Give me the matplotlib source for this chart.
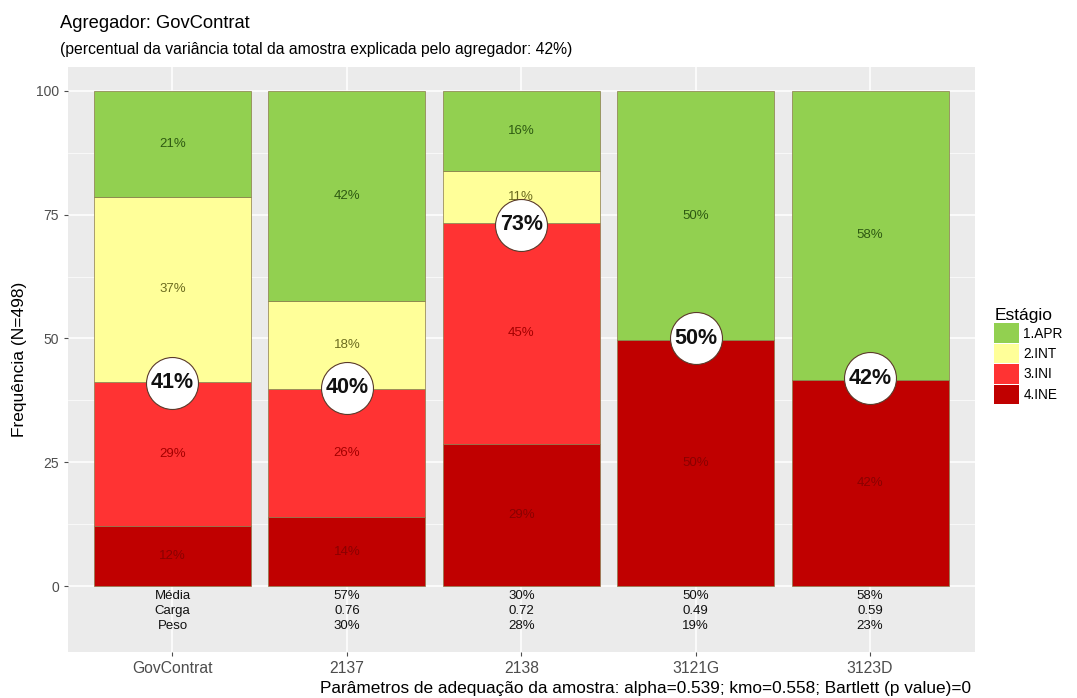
import matplotlib.pyplot as plt
import numpy as np
from matplotlib.patches import Patch

plt.rcParams['font.family'] = ['Liberation Sans', 'DejaVu Sans']

categories = ['GovContrat', '2137', '2138', '3121G', '3123D']
stages = ['1.APR', '2.INT', '3.INI', '4.INE']
# percentages per stage (bottom to top: INE, INI, INT, APR)
ine = [12.2, 13.9, 28.7, 49.6, 41.6]
ini = [29.1, 25.9, 44.6, 0.0, 0.0]
intr = [37.2, 17.7, 10.6, 0.0, 0.0]
apr = [21.5, 42.5, 16.1, 50.4, 58.4]
seg_labels = {
    '4.INE': ['12%', '14%', '29%', '50%', '42%'],
    '3.INI': ['29%', '26%', '45%', '', ''],
    '2.INT': ['37%', '18%', '11%', '', ''],
    '1.APR': ['21%', '42%', '16%', '50%', '58%'],
}
circle_vals = [41, 40, 73, 50, 42]
media = ['Média', '57%', '30%', '50%', '58%']
carga = ['Carga', '0.76', '0.72', '0.49', '0.59']
peso = ['Peso', '30%', '28%', '19%', '23%']

fills = {'1.APR': '#92d050', '2.INT': '#ffff99', '3.INI': '#ff3333', '4.INE': '#c00000'}
txtcol = {'1.APR': '#2e5a12', '2.INT': '#6b6b1f', '3.INI': '#a30000', '4.INE': '#8a0000'}

fig = plt.figure(figsize=(10.77, 6.98), dpi=100)
ax = fig.add_axes([0.063, 0.066, 0.842, 0.838])
ax.set_facecolor('#ebebeb')

x = np.arange(len(categories))
bottom = np.zeros(len(categories))
order = [('4.INE', ine), ('3.INI', ini), ('2.INT', intr), ('1.APR', apr)]
for name, vals in order:
    vals = np.array(vals)
    ax.bar(x, vals, bottom=bottom, width=0.9, color=fills[name],
           edgecolor='#8a7a4a', linewidth=0.5, zorder=2)
    for i, v in enumerate(vals):
        lab = seg_labels[name][i]
        if v > 0 and lab:
            ax.text(x[i], bottom[i] + v / 2, lab, ha='center', va='center',
                    fontsize=9.5, color=txtcol[name], zorder=3)
    bottom += vals

# circles at cumulative INE+INI
ax.scatter(x, circle_vals, s=1400, facecolor='white', edgecolor='#5a3a2a',
           linewidth=0.8, zorder=4)
for i, v in enumerate(circle_vals):
    ax.text(x[i], v, f'{v}%', ha='center', va='center', fontsize=15.5,
            fontweight='bold', color='#111111', zorder=5)

# table under bars
for i in range(len(categories)):
    ax.text(x[i], -2, media[i], ha='center', va='center', fontsize=9.5, color='#111111')
    ax.text(x[i], -5, carga[i], ha='center', va='center', fontsize=9.5, color='#111111')
    ax.text(x[i], -8, peso[i], ha='center', va='center', fontsize=9.5, color='#111111')

ax.set_xlim(-0.6, 4.6)
ax.set_ylim(-13.3, 104.8)
ax.set_yticks([0, 25, 50, 75, 100])
ax.set_yticks([12.5, 37.5, 62.5, 87.5], minor=True)
ax.set_xticks(x)
ax.set_xticklabels(categories)
ax.grid(True, which='major', color='white', linewidth=1.1, zorder=0)
ax.grid(True, which='minor', axis='y', color='white', linewidth=0.5, zorder=0)
ax.set_axisbelow(True)
for s in ax.spines.values():
    s.set_visible(False)
ax.tick_params(axis='both', which='major', colors='#4d4d4d', length=3)
ax.tick_params(axis='both', which='minor', length=0)
ax.tick_params(axis='y', labelsize=10)
ax.tick_params(axis='x', labelsize=11.3)
ax.set_ylabel('Frequência (N=498)', fontsize=12.5, color='black', labelpad=6)

fig.text(0.056, 0.967, 'Agregador: GovContrat', fontsize=13.2, ha='left', va='center')
fig.text(0.056, 0.929, '(percentual da variância total da amostra explicada pelo agregador: 42%)',
         fontsize=11.3, ha='left', va='center')
fig.text(0.902, 0.013, 'Parâmetros de adequação da amostra: alpha=0.539; kmo=0.558; Bartlett (p value)=0',
         fontsize=12.4, ha='right', va='center')

# legend
handles = [Patch(facecolor=fills[s], edgecolor='none') for s in stages]
leg = fig.legend(handles, stages, title='Estágio', loc='center left',
                 bbox_to_anchor=(0.918, 0.49), frameon=False, fontsize=9.8,
                 title_fontsize=12.5, handlelength=1.8, handleheight=1.85,
                 labelspacing=0.05, handletextpad=0.35, borderaxespad=0)
leg._legend_box.align = 'left'

fig.savefig('out.png', dpi=100)
